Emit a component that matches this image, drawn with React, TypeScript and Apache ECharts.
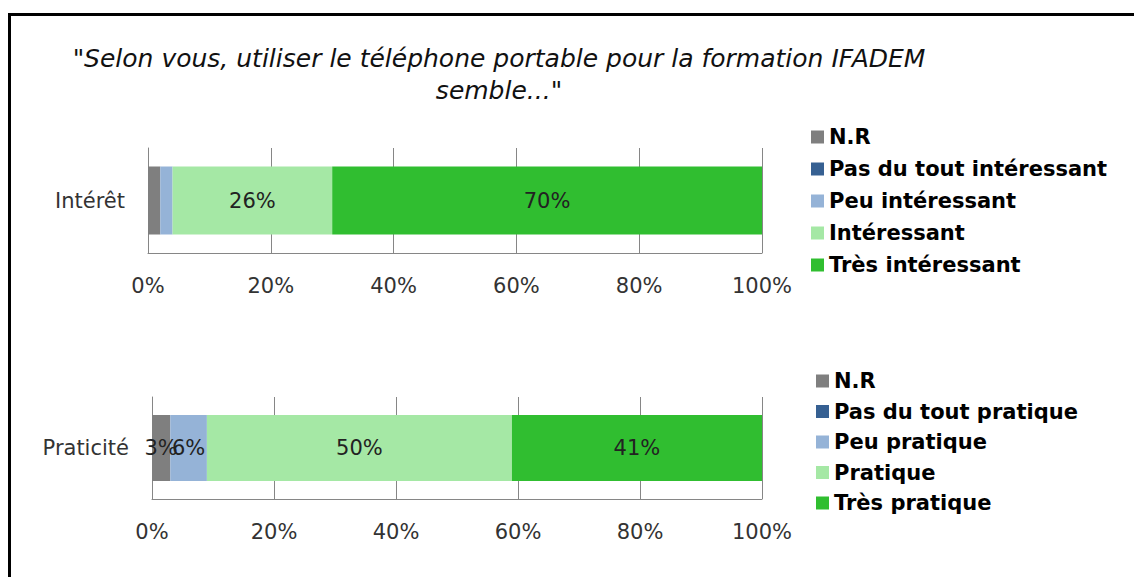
import React, { useEffect, useRef } from "react";
import * as echarts from "echarts";

const titleLines = ['"Selon vous, utiliser le téléphone portable pour la formation IFADEM', 'semble..."'];
const topCategory = ["Intérêt"];
const bottomCategory = ["Praticité"];
const topNames = ["N.R", "Pas du tout intéressant", "Peu intéressant", "Intéressant", "Très intéressant"];
const bottomNames = ["N.R", "Pas du tout pratique", "Peu pratique", "Pratique", "Très pratique"];
const topValues = [2, 0, 2, 26, 70];
const bottomValues = [3, 0, 6, 50, 41];
const colors = ["#7f7f7f", "#366092", "#95b3d7", "#a5e8a5", "#30be30"];
const tickValues = [0, 20, 40, 60, 80, 100];

const FONT = "DejaVu Sans";
const AXIS_COLOR = "#868686";

export default function App() {
  const ref = useRef<HTMLDivElement>(null);
  useEffect(() => {
    if (!ref.current) return;
    const chart = echarts.init(ref.current, undefined, { renderer: "svg" });

    const xAxisBase = (gridIndex: number) => ({
      type: "value" as const,
      gridIndex,
      min: tickValues[0],
      max: tickValues[tickValues.length - 1],
      interval: tickValues[1] - tickValues[0],
      axisLine: { show: true, lineStyle: { color: AXIS_COLOR, width: 1 } },
      axisTick: { show: false },
      splitLine: { show: true, lineStyle: { color: AXIS_COLOR, width: 1 } },
      axisLabel: {
        formatter: "{value}%",
        fontFamily: FONT,
        fontSize: 21,
        color: "#333",
        margin: 22,
      },
    });
    const yAxisBase = (gridIndex: number, data: string[]) => ({
      type: "category" as const,
      gridIndex,
      data,
      axisLine: { show: true, lineStyle: { color: AXIS_COLOR, width: 1 } },
      axisTick: { show: false },
      axisLabel: { fontFamily: FONT, fontSize: 21, color: "#333", margin: 23 },
    });

    const makeSeries = (names: string[], values: number[], idx: number, stack: string, barWidth: number) =>
      names.map((name, i) => ({
        type: "bar" as const,
        name,
        stack,
        xAxisIndex: idx,
        yAxisIndex: idx,
        barWidth,
        itemStyle: { color: colors[i] },
        label: {
          show: true,
          position: "inside" as const,
          fontFamily: FONT,
          fontSize: 21,
          color: "#222",
          formatter: (p: any) => (p.value >= 3 ? `${p.value}%` : ""),
        },
        data: [values[i]],
      }));

    const legendBase = (names: string[], left: number, top: number, gap: number) => ({
      orient: "vertical" as const,
      left,
      top,
      itemWidth: 13,
      itemHeight: 13,
      itemGap: gap,
      icon: "rect",
      data: names,
      selectedMode: false,
      textStyle: { fontFamily: FONT, fontWeight: "bold" as const, fontSize: 21, color: "#000", lineHeight: 22 },
    });

    chart.setOption({
      animation: false,
      backgroundColor: "#fff",
      grid: [
        { left: 148, top: 148, width: 614, height: 105 },
        { left: 152, top: 397, width: 610, height: 102 },
      ],
      xAxis: [xAxisBase(0), xAxisBase(1)],
      yAxis: [yAxisBase(0, topCategory), yAxisBase(1, bottomCategory)],
      legend: [legendBase(topNames, 806, 121, 10), legendBase(bottomNames, 811, 365, 8.5)],
      series: [
        ...makeSeries(topNames, topValues, 0, "top", 68),
        ...makeSeries(bottomNames, bottomValues, 1, "bottom", 66),
      ],
      graphic: [
        { type: "rect", shape: { x: 8, y: 13, width: 1126, height: 3 }, style: { fill: "#000" } },
        { type: "rect", shape: { x: 8, y: 13, width: 3, height: 564 }, style: { fill: "#000" } },
        {
          type: "text",
          x: 499,
          y: 74,
          style: {
            text: titleLines.join("\n"),
            align: "center",
            verticalAlign: "middle",
            fontFamily: FONT,
            fontStyle: "italic",
            fontSize: 25,
            lineHeight: 32,
            fill: "#111",
          },
        },
      ],
    });
    return () => chart.dispose();
  }, []);
  return (
    <div
      ref={ref}
      style={{ position: "fixed", left: 0, top: 0, width: 1134, height: 577, background: "#fff" }}
    />
  );
}
